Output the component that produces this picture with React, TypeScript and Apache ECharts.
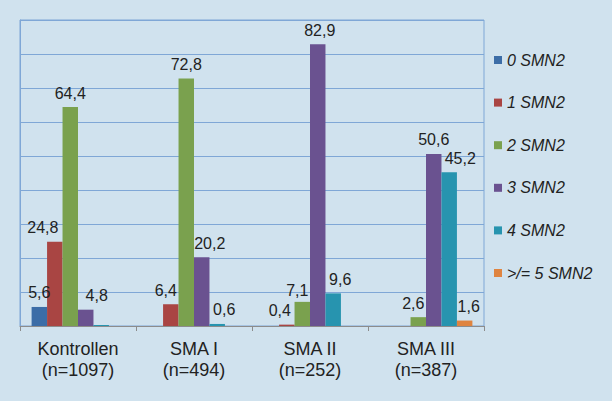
import React, { useEffect, useRef } from "react";
import * as echarts from "echarts";

const categories = ["Kontrollen\n(n=1097)", "SMA I\n(n=494)", "SMA II\n(n=252)", "SMA III\n(n=387)"];
const seriesNames = ["0 SMN2", "1 SMN2", "2 SMN2", "3 SMN2", "4 SMN2", ">/= 5 SMN2"];
const smn0 = [5.6, 0, 0, 0];
const smn1 = [24.8, 6.4, 0.4, 0];
const smn2 = [64.4, 72.8, 7.1, 2.6];
const smn3 = [4.8, 20.2, 82.9, 50.6];
const smn4 = [0.3, 0.6, 9.6, 45.2];
const smn5 = [0, 0, 0, 1.6];
// values drawn without a printed label in the reference
const hiddenLabels: Record<string, number[]> = { "4 SMN2": [0] };
const colors = ["#3C6DA7", "#A94543", "#7AA14E", "#6A5290", "#2794AF", "#DF8440"];
const font = "'Liberation Sans', Arial, sans-serif";
// manual label nudges (style), per series per category: [dx, dy]
const labelNudges: number[][][] = [
  [[0, 0], [0, 0], [0, 0], [0, 0]],
  [[-12, 0], [-5, 0], [-7, 0], [0, 0]],
  [[0, 0], [0, 0], [-5, 3], [-5, 0]],
  [[11, 0], [8, 0], [2, 0], [0, 0]],
  [[0, 0], [7, 0], [7, 0], [11, 0]],
  [[0, 0], [0, 0], [0, 0], [4, 0]],
];

export default function App() {
  const ref = useRef<HTMLDivElement>(null);
  useEffect(() => {
    if (!ref.current) return;
    const chart = echarts.init(ref.current, null, { renderer: "svg" });
    const all = [smn0, smn1, smn2, smn3, smn4, smn5];
    const series = all.map((vals, i) => ({
      name: seriesNames[i],
      type: "bar" as const,
      barGap: "0%",
      barCategoryGap: "20%",
      itemStyle: { color: colors[i] },
      data: vals.map((v, j) => {
        const hide = v === 0 || (hiddenLabels[seriesNames[i]] || []).includes(j);
        return { value: v, label: { show: !hide, offset: labelNudges[i][j] } };
      }),
      label: {
        show: true,
        position: "top",
        distance: 6,
        color: "#222",
        fontSize: 16,
        fontFamily: font,
        formatter: (p: any) => String(p.value).replace(".", ","),
      },
    }));
    chart.setOption({
      animation: false,
      backgroundColor: "#D0E2EE",
      color: colors,
      grid: {
        left: 20,
        right: 128,
        top: 20,
        bottom: 75,
        show: true,
        borderColor: "#7FA7D6",
        borderWidth: 1,
        backgroundColor: "transparent",
      },
      legend: {
        orient: "vertical",
        left: 489,
        top: 47,
        icon: "rect",
        itemWidth: 8,
        itemHeight: 8,
        itemGap: 26.6,
        data: seriesNames,
        textStyle: {
          fontStyle: "italic",
          fontSize: 16,
          lineHeight: 16,
          color: "#222",
          fontFamily: font,
        },
      },
      xAxis: {
        type: "category",
        data: categories,
        axisLine: { lineStyle: { color: "#8C8C8C", width: 1 } },
        axisTick: { show: true, length: 5, lineStyle: { color: "#8C8C8C" } },
        axisLabel: {
          color: "#222",
          fontSize: 18,
          lineHeight: 21,
          margin: 12,
          fontFamily: font,
        },
      },
      yAxis: {
        type: "value",
        min: 0,
        max: 90,
        interval: 10,
        axisLabel: { show: false },
        axisTick: { show: false },
        axisLine: { show: true, lineStyle: { color: "#7FA7D6" } },
        splitLine: { lineStyle: { color: "#7FA7D6", width: 1 } },
      },
      series,
    });
    return () => chart.dispose();
  }, []);
  return (
    <div
      ref={ref}
      style={{ position: "fixed", left: 0, top: 0, width: 612, height: 401 }}
    />
  );
}
